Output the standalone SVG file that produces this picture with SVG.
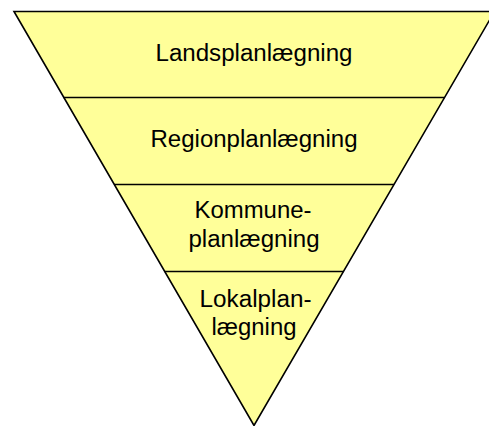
<svg xmlns="http://www.w3.org/2000/svg" width="489" height="426" viewBox="0 0 489 426">
<style>
.t{font-family:"Liberation Sans",Arial,sans-serif;font-size:23.5px;fill:#000;text-anchor:middle}
.l{stroke:#000;stroke-width:1.6;fill:none}
</style>
<rect width="489" height="426" fill="#fff"/>
<g id="triangle">
<polygon points="14,11.5 494.5,11.5 254,425.5" fill="#ffff99" stroke="#000" stroke-width="1.6" stroke-linejoin="miter"/>
</g>
<g id="connectors">
<line class="l" x1="63.5" y1="97.5" x2="444.5" y2="97.5"/>
<line class="l" x1="114" y1="184.5" x2="394" y2="184.5"/>
<line class="l" x1="164.5" y1="271.5" x2="343.5" y2="271.5"/>
</g>
<g id="lands"><text class="t" x="254" y="60.7" textLength="197" lengthAdjust="spacingAndGlyphs">Landsplanlægning</text></g>
<g id="region"><text class="t" x="254" y="146.7" textLength="207" lengthAdjust="spacingAndGlyphs">Regionplanlægning</text></g>
<g id="kommune"><text class="t" x="253" y="218.3" textLength="117" lengthAdjust="spacingAndGlyphs">Kommune-</text><text class="t" x="254" y="246.7" textLength="131" lengthAdjust="spacingAndGlyphs">planlægning</text></g>
<g id="lokal"><text class="t" x="255.5" y="306.7" textLength="112" lengthAdjust="spacingAndGlyphs">Lokalplan-</text><text class="t" x="254" y="335" textLength="85" lengthAdjust="spacingAndGlyphs">lægning</text></g>
</svg>
